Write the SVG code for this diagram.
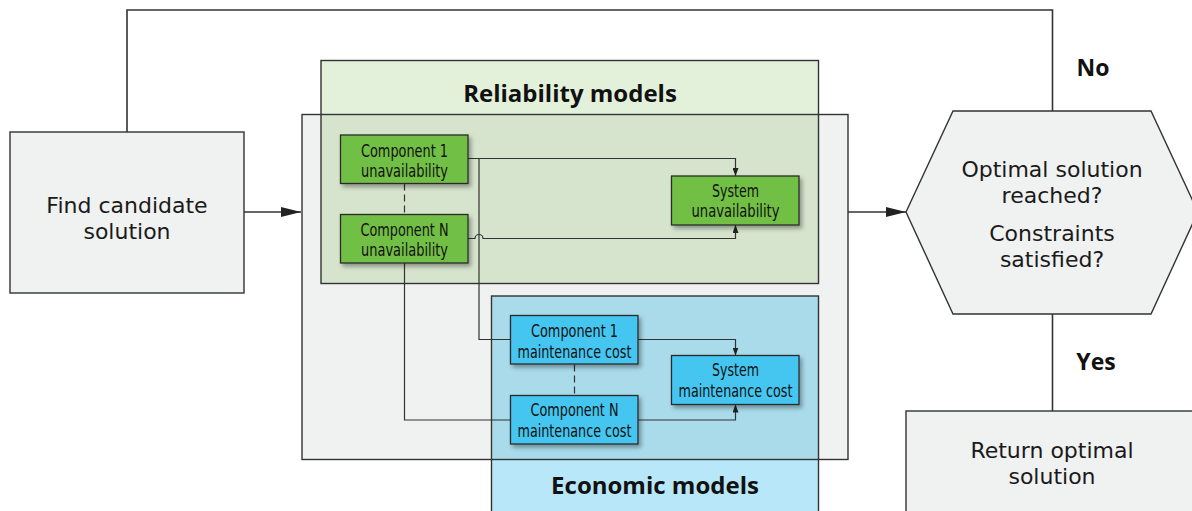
<svg xmlns="http://www.w3.org/2000/svg" width="1192" height="511" viewBox="0 0 1192 511">
  <defs>
    <style>
      .ln { fill: none; stroke: #333; stroke-width: 1.6; }
      .thin { fill: none; stroke: #333; stroke-width: 1.2; }
      .dash { fill: none; stroke: #333; stroke-width: 1.2; stroke-dasharray: 7 4; }
      .box { fill: #f0f1f1; stroke: #333; stroke-width: 1.4; }
      .frame { fill: none; stroke: #333; stroke-width: 1.4; }
      .grn { fill: #72bf44; stroke: #2a2a2a; stroke-width: 1.3; }
      .blu { fill: #45c6f0; stroke: #2a2a2a; stroke-width: 1.3; }
      .big { font-family: "DejaVu Sans", "Liberation Sans", sans-serif; font-size: 22px; fill: #1a1a1a; text-anchor: middle; }
      .hd { font-family: "Open Sans", "Liberation Sans", sans-serif; font-size: 24px; font-weight: bold; fill: #111; text-anchor: middle; }
      .lbl { font-family: "Open Sans", "Liberation Sans", sans-serif; font-size: 23px; font-weight: bold; fill: #111; text-anchor: middle; }
      .sm { font-family: "DejaVu Sans Condensed", "DejaVu Sans", sans-serif; font-size: 18px; fill: #111; text-anchor: middle; }
    </style>
    <marker id="bigArrow" viewBox="0 0 20 10" refX="20" refY="5" markerWidth="20" markerHeight="10" markerUnits="userSpaceOnUse" orient="auto">
      <path d="M0,0 L20,5 L0,10 Z" fill="#222"/>
    </marker>
    <marker id="smArrow" viewBox="0 0 8 6" refX="8" refY="3" markerWidth="8" markerHeight="6" markerUnits="userSpaceOnUse" orient="auto">
      <path d="M0,0 L8,3 L0,6 Z" fill="#222"/>
    </marker>
    <filter id="shadow" x="-10%" y="-20%" width="130%" height="150%">
      <feDropShadow dx="2.5" dy="3" stdDeviation="2" flood-color="#000" flood-opacity="0.35"/>
    </filter>
  </defs>

  <!-- model area backgrounds -->
  <g id="model-area">
    <rect x="302" y="114.5" width="546" height="345" fill="#f0f1f1"/>
    <rect x="321" y="60.5" width="497.5" height="54" fill="#e3f1db"/>
    <rect x="321" y="114.5" width="497.5" height="169" fill="#d6e4cd"/>
    <rect x="491.5" y="296" width="327" height="163.5" fill="#a9dbeb"/>
    <rect x="491.5" y="459.5" width="327" height="60" fill="#b7e7f9"/>
  </g>

  <g id="reliability-models">
    <rect class="frame" x="321" y="60.5" width="497.5" height="223"/>
    <text class="hd" x="570" y="102">Reliability models</text>
  </g>

  <g id="economic-models">
    <rect class="frame" x="491.5" y="296" width="327" height="230"/>
    <text class="hd" x="655" y="494">Economic models</text>
  </g>

  <g id="evaluation-frame">
    <rect class="frame" x="302" y="114.5" width="546" height="345"/>
  </g>

  <!-- connectors -->
  <g id="connectors">
    <path class="ln" d="M127,132 V10 H1052.5 V111"/>
    <path class="ln" d="M244,212 H301" marker-end="url(#bigArrow)"/>
    <path class="ln" d="M848,212 H906" marker-end="url(#bigArrow)"/>
    <path class="ln" d="M1052.5,314 V411"/>

    <path class="thin" d="M468,158.5 H735.5 V176" marker-end="url(#smArrow)"/>
    <path class="thin" d="M468,238.5 H475 A4,4 0 0 1 483,238.5 H735.5 V225" marker-end="url(#smArrow)"/>
    <path class="thin" d="M479,158.5 V339.5 H510.5"/>
    <path class="thin" d="M404.5,263 V420 H510.5"/>
    <path class="thin" d="M638,339.5 H735.5 V355.5" marker-end="url(#smArrow)"/>
    <path class="thin" d="M638,420 H735.5 V404.5" marker-end="url(#smArrow)"/>
    <path class="dash" d="M404.5,183.5 V214.5"/>
    <path class="dash" d="M574.5,364.5 V395.5"/>
  </g>

  <g id="find-candidate">
    <rect class="box" x="10" y="132" width="234" height="161"/>
    <text class="big"><tspan x="127" y="213">Find candidate</tspan><tspan x="127" y="239">solution</tspan></text>
  </g>

  <g id="component-1-unavailability">
    <rect class="grn" x="340.5" y="135" width="127.5" height="48.5" filter="url(#shadow)"/>
    <text class="sm"><tspan x="404.5" y="157" textLength="87" lengthAdjust="spacingAndGlyphs">Component 1</tspan><tspan x="404.5" y="177" textLength="87" lengthAdjust="spacingAndGlyphs">unavailability</tspan></text>
  </g>

  <g id="component-n-unavailability">
    <rect class="grn" x="340.5" y="214.5" width="127.5" height="48.5" filter="url(#shadow)"/>
    <text class="sm"><tspan x="404.5" y="236" textLength="88" lengthAdjust="spacingAndGlyphs">Component N</tspan><tspan x="404.5" y="256" textLength="87" lengthAdjust="spacingAndGlyphs">unavailability</tspan></text>
  </g>

  <g id="system-unavailability">
    <rect class="grn" x="671.5" y="176" width="127.5" height="49" filter="url(#shadow)"/>
    <text class="sm"><tspan x="735.5" y="197" textLength="47" lengthAdjust="spacingAndGlyphs">System</tspan><tspan x="735.5" y="217" textLength="88" lengthAdjust="spacingAndGlyphs">unavailability</tspan></text>
  </g>

  <g id="component-1-maintenance">
    <rect class="blu" x="510.5" y="315.5" width="127.5" height="48.5" filter="url(#shadow)"/>
    <text class="sm"><tspan x="574.5" y="337" textLength="87" lengthAdjust="spacingAndGlyphs">Component 1</tspan><tspan x="574.5" y="357.5" textLength="114" lengthAdjust="spacingAndGlyphs">maintenance cost</tspan></text>
  </g>

  <g id="component-n-maintenance">
    <rect class="blu" x="510.5" y="395.5" width="127.5" height="48.5" filter="url(#shadow)"/>
    <text class="sm"><tspan x="574.5" y="416" textLength="88" lengthAdjust="spacingAndGlyphs">Component N</tspan><tspan x="574.5" y="436.5" textLength="114" lengthAdjust="spacingAndGlyphs">maintenance cost</tspan></text>
  </g>

  <g id="system-maintenance">
    <rect class="blu" x="671.5" y="355.5" width="127.5" height="49" filter="url(#shadow)"/>
    <text class="sm"><tspan x="735.5" y="376" textLength="47" lengthAdjust="spacingAndGlyphs">System</tspan><tspan x="735.5" y="397" textLength="114" lengthAdjust="spacingAndGlyphs">maintenance cost</tspan></text>
  </g>

  <g id="optimality-check">
    <polygon class="box" points="906,212 953,111 1151,111 1198,212 1151,314 953,314"/>
    <text class="big"><tspan x="1052" y="177">Optimal solution</tspan><tspan x="1052" y="203">reached?</tspan></text>
    <text class="big"><tspan x="1052" y="241">Constraints</tspan><tspan x="1052" y="267">satisfied?</tspan></text>
  </g>

  <g id="labels">
    <text class="lbl" x="1093" y="76">No</text>
    <text class="lbl" x="1096" y="370">Yes</text>
  </g>

  <g id="return-optimal">
    <rect class="box" x="906" y="411" width="300" height="110"/>
    <text class="big"><tspan x="1052" y="458">Return optimal</tspan><tspan x="1052" y="484">solution</tspan></text>
  </g>
</svg>
